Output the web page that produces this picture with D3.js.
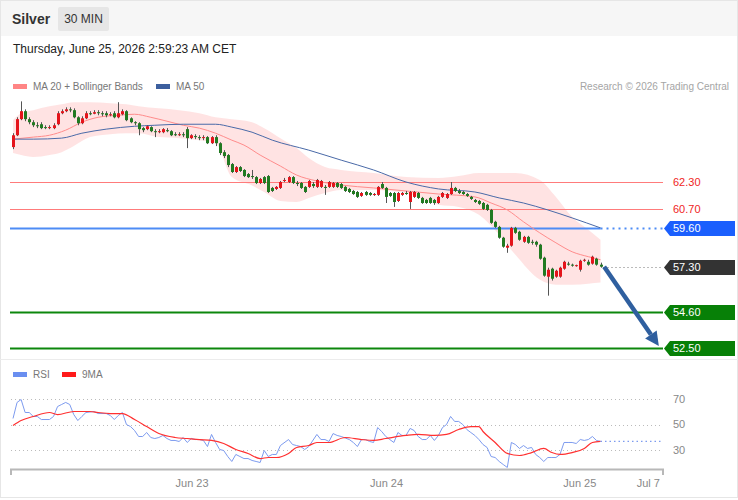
<!DOCTYPE html>
<meta charset="utf-8">
<script src="https://cdn.jsdelivr.net/npm/d3@7"></script>
<style>
body { margin: 0; background: #fff; font-family: "Liberation Sans", Arial, Helvetica, sans-serif; }
</style>
<body>
<script>
var w = 738, h = 500;

// 30 min candles, index 0..145
var open = [64.36,65.06,66.01,66.48,66.01,65.83,65.65,65.71,65.54,65.51,
	65.48,65.71,66.36,66.48,66.59,66.54,66.12,65.77,66.06,66.36,
	66.33,66.42,66.36,66.36,66.24,66.36,66.12,66.30,66.48,66.06,
	65.83,65.77,65.48,65.42,65.54,65.30,65.27,65.24,65.36,65.30,
	65.12,65.09,65.12,65.42,64.89,65.01,64.95,64.89,64.95,64.59,
	64.95,64.59,64.06,63.89,63.36,62.89,63.18,63.01,62.77,62.65,
	62.59,62.24,62.59,62.65,61.95,61.89,61.95,62.36,62.30,62.59,
	62.24,62.24,62.01,62.01,62.18,62.01,62.01,62.01,62.01,62.01,
	62.24,62.18,62.01,61.89,61.77,61.71,61.48,61.71,61.65,61.54,
	61.54,62.18,61.95,61.65,61.65,61.18,61.54,61.65,61.12,61.42,
	61.65,61.36,61.24,61.36,61.24,61.06,61.42,61.36,61.59,61.95,
	61.77,61.71,61.59,61.42,61.24,61.18,61.06,60.95,60.65,59.95,
	59.65,59.01,58.42,58.54,59.59,59.36,58.77,59.06,58.77,58.77,
	58.60,57.83,56.71,57.18,56.71,56.71,57.18,57.48,57.42,57.36,
	57.12,57.65,57.59,57.48,57.77,57.42];
var high = [65.18,66.12,67.06,66.59,66.12,65.95,65.83,65.83,65.65,65.65,
	65.77,66.48,66.59,66.71,66.71,66.65,66.18,66.18,66.48,66.48,
	66.54,66.54,66.48,66.48,66.42,66.48,67.01,66.59,66.54,66.12,
	65.89,65.83,65.54,65.65,65.59,65.42,65.42,65.48,65.48,65.36,
	65.24,65.24,65.24,65.54,65.12,65.12,65.06,65.06,65.01,65.01,
	65.06,64.65,64.18,63.95,63.42,63.24,63.24,63.06,62.83,63.01,
	62.65,62.54,62.65,62.71,62.01,62.06,62.36,62.54,62.65,62.65,
	62.36,62.30,62.06,62.42,62.30,62.48,62.42,62.12,62.36,62.30,
	62.30,62.24,62.06,61.95,61.83,61.77,61.71,61.77,61.71,61.65,
	62.06,62.30,62.01,61.71,61.71,61.71,61.71,61.77,61.77,61.77,
	61.71,61.42,61.30,61.42,61.30,61.48,61.71,61.65,62.30,62.01,
	61.89,61.77,61.65,61.48,61.30,61.24,61.12,61.01,60.71,60.01,
	59.71,59.06,58.65,59.65,59.65,59.42,59.12,59.12,58.89,58.83,
	58.65,57.89,57.24,57.24,57.12,57.30,57.65,57.59,57.48,57.42,
	57.71,57.77,57.71,57.95,57.83,57.54];
var low = [64.24,65.01,65.95,65.89,65.71,65.54,65.48,65.42,65.42,65.42,
	65.42,65.65,66.30,66.42,66.42,66.06,65.65,65.71,66.01,66.24,
	66.30,66.24,66.18,66.12,66.18,66.06,66.06,66.24,65.89,65.77,
	65.65,65.06,65.24,65.36,65.24,64.95,65.18,65.18,65.24,65.01,
	65.01,65.01,64.95,64.30,64.83,64.83,64.77,64.77,64.54,64.54,
	64.42,63.89,63.71,63.18,62.83,62.83,62.89,62.59,62.54,62.48,
	62.18,62.18,62.18,61.65,61.71,61.83,61.89,62.30,62.24,62.18,
	62.06,61.89,61.65,61.95,61.95,61.95,61.95,61.54,61.95,61.95,
	61.95,61.89,61.71,61.65,61.54,61.36,61.42,61.48,61.48,61.48,
	61.48,61.89,61.06,61.42,60.83,61.12,61.48,61.54,60.71,61.36,
	61.30,61.01,61.01,61.01,60.95,61.01,61.36,61.30,61.54,61.71,
	61.59,61.54,61.42,61.24,61.06,60.95,60.65,60.59,59.83,59.59,
	58.95,58.42,58.12,58.48,59.24,58.83,58.71,58.65,58.60,58.48,
	57.71,56.71,55.59,56.48,56.65,56.65,57.12,57.36,57.30,57.30,
	57.01,57.59,57.36,57.42,57.36,57.24];
var close = [65.06,66.01,66.48,66.01,65.83,65.65,65.62,65.48,65.51,65.54,
	65.65,66.36,66.48,66.59,66.54,66.12,65.77,66.06,66.36,66.33,
	66.42,66.36,66.30,66.24,66.30,66.12,66.36,66.48,65.95,65.83,
	65.77,65.42,65.36,65.59,65.30,65.27,65.30,65.42,65.33,65.06,
	65.09,65.12,65.06,64.89,65.06,64.95,64.89,64.95,64.59,64.95,
	64.59,64.01,63.83,63.30,62.89,63.18,62.95,62.65,62.59,62.62,
	62.24,62.48,62.24,61.71,61.77,62.01,62.30,62.42,62.59,62.24,
	62.18,61.95,61.71,62.36,62.06,62.42,62.36,61.95,62.30,62.24,
	62.01,61.95,61.77,61.71,61.59,61.42,61.65,61.54,61.54,61.59,
	62.01,61.95,61.42,61.48,61.12,61.65,61.65,61.62,61.71,61.71,
	61.36,61.06,61.06,61.06,61.06,61.42,61.65,61.59,61.95,61.77,
	61.65,61.59,61.48,61.30,61.12,61.01,60.71,60.65,59.89,59.65,
	59.01,58.48,58.54,59.59,59.30,58.89,59.06,58.71,58.71,58.60,
	57.77,56.77,57.12,56.59,57.06,57.24,57.59,57.42,57.36,57.39,
	57.65,57.71,57.42,57.89,57.42,57.30];

// moving averages (candle index -> value)
var ma20Idx = [0,5,9,13,17,21,26,30,34,38,42,46,50,54,57,61,66,70,75,81,89,97,105,114,118,122,126,130,134,138,142,145];
var ma20 = [64.83,64.95,65.06,65.36,65.83,66.12,66.24,66.30,66.12,65.89,65.65,65.48,65.18,64.77,64.48,63.89,63.24,62.71,62.36,62.12,61.95,61.77,61.59,61.42,61.06,60.65,59.95,59.30,58.71,58.18,57.89,57.71];
var ma50Idx = [0,5,12,17,23,30,35,42,50,54,59,64,73,81,89,97,105,114,120,126,132,138,145];
var ma50 = [64.83,64.83,64.89,65.18,65.42,65.59,65.65,65.71,65.71,65.54,65.24,64.77,64.18,63.59,63.01,62.30,61.89,61.71,61.36,61.06,60.65,60.18,59.59];
var bandIdx = [0,2,5,9,12,15,19,24,28,31,36,41,46,50,54,59,62,66,70,73,77,81,89,97,105,110,115,120,124,130,134,138,142,145];
var bandUpper = [65.95,66.36,66.54,66.77,66.89,67.01,67.01,66.95,66.89,66.77,66.65,66.54,66.36,66.12,66.01,65.83,65.48,64.89,64.30,63.71,63.18,63.01,62.83,62.59,62.54,62.65,62.83,62.83,62.83,62.42,61.42,60.24,59.48,58.89];
var bandLower = [64.01,63.89,63.77,63.89,64.06,64.42,64.95,65.12,65.18,65.18,64.95,64.89,64.77,64.59,62.60,62.10,61.71,61.18,61.12,61.36,61.65,61.83,61.83,61.65,60.95,60.83,60.36,59.18,58.00,56.54,56.24,56.24,56.30,56.36];

// RSI and its 9 period MA
var rsiIdx = [0,1,2,3,4,5,6,7,9,10,11,12,13,14,15,16,17,18,20,21,23,24,25,26,27,28,29,30,31,32,33,34,35,36,37,38,39,40,41,42,43,44,45,46,47,48,49,50,51,52,53,54,55,56,57,58,59,60,61,62,63,64,65,66,68,69,70,71,72,73,75,76,77,78,79,80,81,83,84,85,86,87,88,89,90,91,92,93,94,95,96,97,98,99,100,101,102,103,104,105,106,107,108,109,110,111,112,113,114,115,116,117,118,119,120,121,122,123,124,125,126,127,128,129,130,131,132,133,134,135,136,137,138,139,140,141,142,143,144,145];
var rsi = [54.7,67.3,69.6,59.4,59.4,56.3,56.3,53.9,53.9,56.3,64.1,65.7,67.3,65.7,57.8,53.1,56.3,59.4,60.2,58.6,58.6,57.1,53.9,57.1,59.4,50.0,48.4,45.3,40.6,40.6,43.7,39.8,39.0,39.8,41.4,39.0,37.5,37.5,36.7,39.8,35.9,39.0,38.2,38.2,37.5,32.7,42.2,35.9,30.4,29.6,24.9,21.0,26.5,24.9,23.3,23.3,21.8,21.0,20.2,29.6,24.9,26.5,26.5,33.5,38.2,34.3,33.5,32.7,30.4,32.7,42.2,38.2,38.2,36.7,42.9,41.4,40.6,38.2,35.9,32.7,38.2,38.2,36.7,35.9,47.6,44.5,40.6,38.2,35.9,43.7,41.4,41.4,46.9,45.3,40.6,38.2,38.2,41.4,37.5,41.4,47.6,50.0,56.3,52.4,52.4,50.0,46.1,43.7,41.4,38.2,34.3,32.0,24.9,24.1,21.0,18.6,16.3,35.9,34.3,31.2,33.5,31.2,32.0,26.5,24.1,21.0,24.1,24.1,24.1,26.5,35.9,35.9,35.9,35.1,38.2,37.5,38.2,40.6,37.5,36.7];
var rsiMaIdx = [0,2,5,9,11,15,19,21,24,27,30,33,36,40,43,46,49,52,55,58,61,63,65,68,70,73,75,78,82,86,89,92,97,100,104,107,110,113,115,116,119,122,125,128,131,133,135,138,141,143,145];
var rsiMa = [49.2,53.1,56.3,59.4,57.8,60.2,60.2,59.4,58.6,58.6,53.9,48.4,42.9,39.8,39.0,38.2,37.5,35.1,30.4,27.3,23.3,24.1,24.1,27.3,32.0,33.5,35.9,35.9,39.8,38.2,37.5,39.0,41.4,42.2,41.4,42.2,46.1,48.4,48.4,44.5,35.9,27.3,25.7,28.0,31.2,28.0,26.5,28.0,31.2,35.9,36.7];
var rsiTicks = [70, 50, 30];

// key levels
var levelValues = [62.30, 60.70, 59.60, 57.30, 54.60, 52.50];
var levelKinds = ["resistance", "resistance", "pivot", "last", "support", "support"];

// forecast arrow (candle index, price)
var arrowFrom = [145.9, 57.30],
	arrowTo = [159.4, 52.62];

var dayTicks = [44.2, 92.2, 139.9, 156.8],
	dayLabels = ["Jun 23", "Jun 24", "Jun 25", "Jul 7"];

var left = 10, right = 663;
var levelStyle = {
	resistance: { line: "#ff7b7b", width: 1, text: "#f02424", box: null },
	pivot: { line: "#4d8cf5", width: 2, text: "#fff", box: "#1b5ffd" },
	last: { line: "#777", width: 1, text: "#fff", box: "#333" },
	support: { line: "#0c870c", width: 2, text: "#fff", box: "#078007" }
};

var x = d3.scaleLinear().domain([0, 145]).range([13, 600.5]);
var y = d3.scaleLinear().domain([52.5, 62.3]).range([348, 182]);
var ry = d3.scaleLinear().domain([30, 70]).range([450, 399]);

var svg = d3.select("body").append("svg")
	.attr("width", w)
	.attr("height", h)
	.style("display", "block");

// frame + header
svg.append("rect").attr("x", 0).attr("y", 0).attr("width", w).attr("height", 36).style("fill", "#f6f6f6");
svg.append("rect").attr("x", 0.5).attr("y", 0.5).attr("width", w - 1).attr("height", 497)
	.style("fill", "none").style("stroke", "#e6e6e6");
svg.append("line").attr("x1", 0).attr("x2", w).attr("y1", 359.5).attr("y2", 359.5).style("stroke", "#ececec");

svg.append("text").attr("x", 12).attr("y", 24).text("Silver")
	.style("font-size", "14px").style("font-weight", "bold").style("fill", "#333");
svg.append("rect").attr("x", 58).attr("y", 7).attr("width", 51).attr("height", 24).attr("rx", 2)
	.style("fill", "#e6e6e6");
svg.append("text").attr("x", 83.5).attr("y", 23).text("30 MIN").style("text-anchor", "middle")
	.style("font-size", "12px").style("fill", "#333");
svg.append("text").attr("x", 13).attr("y", 53).text("Thursday, June 25, 2026 2:59:23 AM CET")
	.style("font-size", "12px").style("fill", "#222");

// legends
var legend = [{ label: "MA 20 + Bollinger Bands", color: "#ff8585", x: 13 }, { label: "MA 50", color: "#3c5f9e", x: 156 }];
svg.selectAll(".legMain").data(legend).enter().append("rect")
	.attr("x", function (d) { return d.x; }).attr("y", 84).attr("width", 14).attr("height", 5)
	.style("fill", function (d) { return d.color; });
svg.selectAll(".legMainText").data(legend).enter().append("text")
	.attr("x", function (d) { return d.x + 20; }).attr("y", 90)
	.text(function (d) { return d.label; })
	.style("font-size", "10px").style("fill", "#777");
svg.append("text").attr("x", 729).attr("y", 90).text("Research \u00a9 2026 Trading Central")
	.style("text-anchor", "end").style("font-size", "10px").style("fill", "#a5a5a5");

var rsiLegend = [{ label: "RSI", color: "#6a8ff0", x: 13 }, { label: "9MA", color: "#ff1a1a", x: 62 }];
svg.selectAll(".legRsi").data(rsiLegend).enter().append("rect")
	.attr("x", function (d) { return d.x; }).attr("y", 372).attr("width", 14).attr("height", 5)
	.style("fill", function (d) { return d.color; });
svg.selectAll(".legRsiText").data(rsiLegend).enter().append("text")
	.attr("x", function (d) { return d.x + 20; }).attr("y", 378)
	.text(function (d) { return d.label; })
	.style("font-size", "10px").style("fill", "#777");

// bollinger band
var band = bandIdx.map(function (d, i) { return { i: d, hi: bandUpper[i], lo: bandLower[i] }; });
svg.append("path").datum(band)
	.attr("d", d3.area().curve(d3.curveMonotoneX)
		.x(function (d) { return x(d.i); })
		.y0(function (d) { return y(d.lo); })
		.y1(function (d) { return y(d.hi); }))
	.style("fill", "#ffdede").style("opacity", 0.85);

// horizontal levels (lines)
var levels = levelValues.map(function (v, i) { return { value: v, kind: levelKinds[i] }; });
svg.selectAll(".levelLine").data(levels).enter().append("line")
	.attr("x1", function (d) { return d.kind == "last" ? x(145) + 3 : left; })
	.attr("x2", function (d) { return d.kind == "pivot" ? x(145) : right; })
	.attr("y1", function (d) { return Math.round(y(d.value)) + 0.5; })
	.attr("y2", function (d) { return Math.round(y(d.value)) + 0.5; })
	.style("stroke", function (d) { return levelStyle[d.kind].line; })
	.style("stroke-width", function (d) { return levelStyle[d.kind].width; })
	.style("stroke-dasharray", function (d) { return d.kind == "last" ? "1,3" : null; });
// pivot dotted extension
svg.selectAll(".pivotExt").data(levels.filter(function (d) { return d.kind == "pivot"; })).enter().append("line")
	.attr("x1", x(145)).attr("x2", right)
	.attr("y1", function (d) { return Math.round(y(d.value)) + 0.5; })
	.attr("y2", function (d) { return Math.round(y(d.value)) + 0.5; })
	.style("stroke", levelStyle.pivot.line).style("stroke-width", 2).style("stroke-dasharray", "2,4");

// moving averages
var lineGen = d3.line().curve(d3.curveMonotoneX)
	.x(function (d) { return x(d[0]); })
	.y(function (d) { return y(d[1]); });
svg.append("path").datum(ma20Idx.map(function (d, i) { return [d, ma20[i]]; }))
	.attr("d", lineGen).style("fill", "none").style("stroke", "#ff8c8c").style("stroke-width", 1);
svg.append("path").datum(ma50Idx.map(function (d, i) { return [d, ma50[i]]; }))
	.attr("d", lineGen).style("fill", "none").style("stroke", "#4a6aa8").style("stroke-width", 1);

// candles
var candles = close.map(function (c, i) { return { i: i, o: open[i], h: high[i], l: low[i], c: c }; });
svg.selectAll(".wick").data(candles).enter().append("line")
	.attr("x1", function (d) { return Math.round(x(d.i)) + 0.5; })
	.attr("x2", function (d) { return Math.round(x(d.i)) + 0.5; })
	.attr("y1", function (d) { return y(d.h); })
	.attr("y2", function (d) { return y(d.l); })
	.style("stroke", "#555").style("stroke-width", 1);
svg.selectAll(".body").data(candles).enter().append("rect")
	.attr("x", function (d) { return Math.round(x(d.i)) - 1; })
	.attr("y", function (d) { return y(Math.max(d.o, d.c)); })
	.attr("width", 3)
	.attr("height", function (d) { return Math.max(1, Math.abs(y(d.o) - y(d.c))); })
	.style("fill", function (d) { return d.c >= d.o ? "#e5141b" : "#217a21"; });

// level labels
svg.selectAll(".levelBox").data(levels.filter(function (d) { return levelStyle[d.kind].box; })).enter().append("path")
	.attr("d", function (d) {
		var cy = Math.round(y(d.value)) + 0.5;
		return "M664," + cy + "L670," + (cy - 7.5) + "L735," + (cy - 7.5) + "L735," + (cy + 7.5) + "L670," + (cy + 7.5) + "Z";
	})
	.style("fill", function (d) { return levelStyle[d.kind].box; });
svg.selectAll(".levelText").data(levels).enter().append("text")
	.attr("x", 673)
	.attr("y", function (d) { return Math.round(y(d.value)) + 0.5; })
	.attr("dy", "0.36em")
	.text(function (d) { return d.value.toFixed(2); })
	.style("font-size", "11px")
	.style("fill", function (d) { return levelStyle[d.kind].text; });

// forecast arrow
var ax0 = x(arrowFrom[0]), ay0 = y(arrowFrom[1]), ax1 = x(arrowTo[0]), ay1 = y(arrowTo[1]);
var ang = Math.atan2(ay1 - ay0, ax1 - ax0), headLen = 14, headW = 7;
var bx = ax1 - headLen * Math.cos(ang), by = ay1 - headLen * Math.sin(ang);
svg.append("line").attr("x1", ax0).attr("y1", ay0).attr("x2", bx).attr("y2", by)
	.style("stroke", "#2f5f9f").style("stroke-width", 4.5);
svg.append("path")
	.attr("d", "M" + ax1 + "," + ay1 +
		"L" + (bx + headW * Math.sin(ang)) + "," + (by - headW * Math.cos(ang)) +
		"L" + (bx - headW * Math.sin(ang)) + "," + (by + headW * Math.cos(ang)) + "Z")
	.style("fill", "#2f5f9f");

// RSI panel
svg.selectAll(".rsiGrid").data(rsiTicks).enter().append("line")
	.attr("x1", 11).attr("x2", right)
	.attr("y1", function (d) { return Math.round(ry(d)) + 0.5; })
	.attr("y2", function (d) { return Math.round(ry(d)) + 0.5; })
	.style("stroke", "#bbb").style("stroke-dasharray", "1,3");
svg.selectAll(".rsiTick").data(rsiTicks).enter().append("text")
	.attr("x", 673).attr("y", function (d) { return ry(d); }).attr("dy", "0.36em")
	.text(function (d) { return d; })
	.style("font-size", "11px").style("fill", "#888");

var rsiLine = d3.line()
	.x(function (d) { return x(d[0]); })
	.y(function (d) { return ry(d[1]); });
svg.append("path").datum(rsiIdx.map(function (d, i) { return [d, rsi[i]]; }))
	.attr("d", rsiLine).style("fill", "none").style("stroke", "#7d9bef").style("stroke-width", 1);
svg.append("path").datum(rsiMaIdx.map(function (d, i) { return [d, rsiMa[i]]; }))
	.attr("d", rsiLine.curve(d3.curveMonotoneX)).style("fill", "none").style("stroke", "#ff3030").style("stroke-width", 1.2);
svg.append("line")
	.attr("x1", x(145)).attr("x2", right)
	.attr("y1", ry(rsi[rsi.length - 1])).attr("y2", ry(rsi[rsi.length - 1]))
	.style("stroke", "#7d9bef").style("stroke-dasharray", "1.5,3").style("stroke-width", 1.3);

// time axis
svg.append("path")
	.attr("d", "M11,475V469.5H663V475")
	.style("fill", "none").style("stroke", "#b8b8b8").style("stroke-width", 2);
svg.selectAll(".dayLabel").data(dayTicks).enter().append("text")
	.attr("x", function (d) { return x(d); })
	.attr("y", 487)
	.text(function (d, i) { return dayLabels[i]; })
	.style("text-anchor", "middle")
	.style("font-size", "11px").style("fill", "#888");
</script>
</body>
</html>
